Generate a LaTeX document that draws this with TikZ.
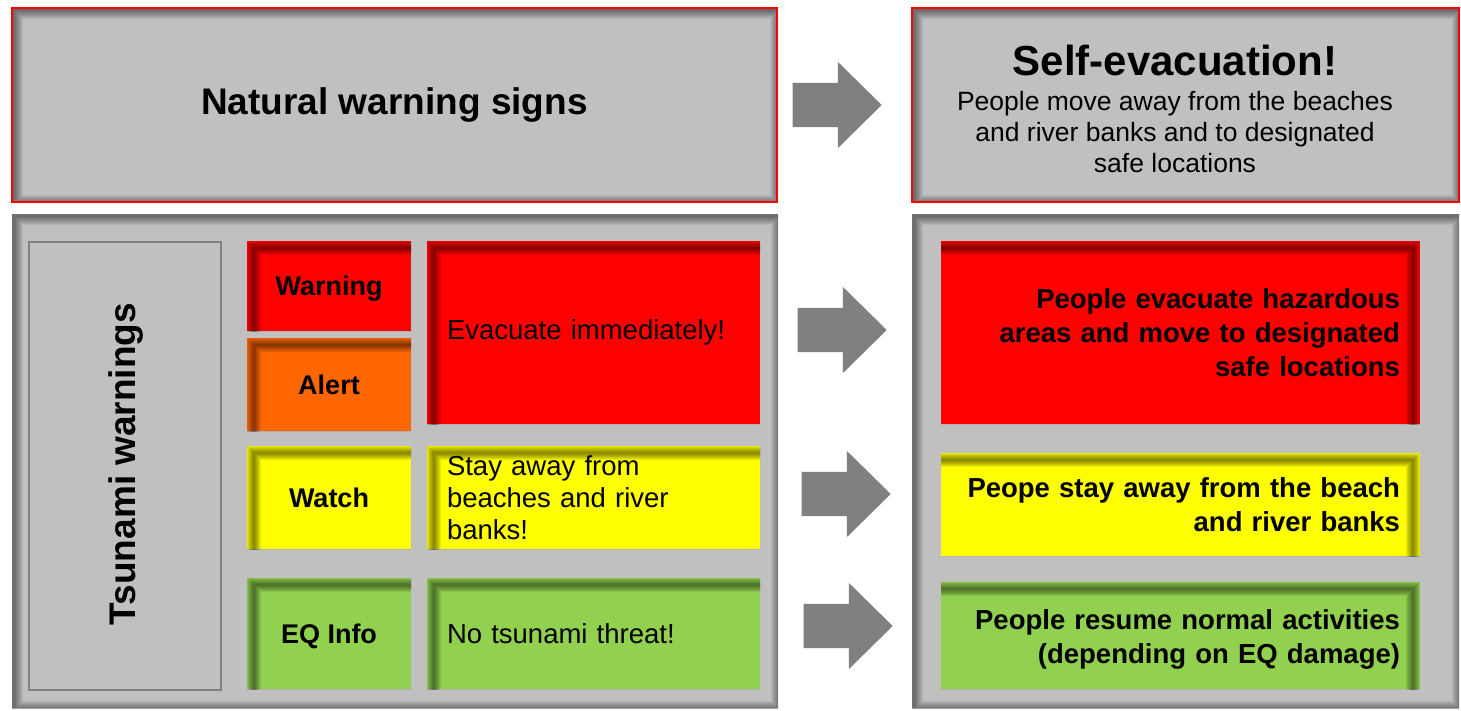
\documentclass[tikz,border=0pt]{standalone}
\usepackage{fontspec}
\setmainfont{Liberation Sans}
\usetikzlibrary{shapes.arrows}
\definecolor{panelgray}{HTML}{C0C0C0}
\definecolor{arrowgray}{HTML}{808080}
\definecolor{wred}{HTML}{FF0000}
\definecolor{worange}{HTML}{FF6600}
\definecolor{wyellow}{HTML}{FFFF00}
\definecolor{wgreen}{HTML}{92D050}
\tikzset{
  sbox/.style={rectangle, inner sep=0pt, outer sep=0pt, anchor=north west,
    path picture={
      \foreach \w in {2,4,...,18}
        \draw[black, opacity=0.06, line width=\w pt]
          ([shift={(1.5pt,-1.5pt)}]path picture bounding box.north west) rectangle
          ([shift={(1.5pt,-1.5pt)}]path picture bounding box.south east);
    }},
  cboxL/.style={rectangle, inner sep=0pt, outer sep=0pt, anchor=north west,
    path picture={
      \foreach \w in {2,4,...,14}
        \draw[black, opacity=0.08, line width=\w pt]
          ([shift={(7pt,-7pt)}]path picture bounding box.north west) rectangle
          ([shift={(7pt,-7pt)}]path picture bounding box.south east);
    }},
  cboxR/.style={rectangle, inner sep=0pt, outer sep=0pt, anchor=north west,
    path picture={
      \foreach \w in {2,4,...,14}
        \draw[black, opacity=0.08, line width=\w pt]
          ([shift={(-7pt,-7pt)}]path picture bounding box.north west) rectangle
          ([shift={(-7pt,-7pt)}]path picture bounding box.south east);
    }},
  redframe/.style={draw=wred, line width=2pt},
  lbl/.style={font=\fontsize{27}{32}\selectfont\bfseries, align=center},
  ltxt/.style={font=\fontsize{27.5}{32}\selectfont, align=left, inner xsep=20pt},
  rtxt/.style={font=\fontsize{27.5}{34}\selectfont\bfseries, align=right, inner xsep=20pt},
  blockarrow/.style={single arrow, fill=arrowgray, draw=none, inner sep=0pt,
    minimum width=86pt, minimum height=89pt, single arrow head extend=21pt,
    single arrow tip angle=89, anchor=tip},
}
\newcommand{\shaftstrut}{\rule[-22pt]{0pt}{44pt}}
\begin{document}
\begin{tikzpicture}[x=1pt,y=-1pt]
\useasboundingbox (0,0) rectangle (1461,710);

% top row
\node[sbox, redframe, fill=panelgray, minimum width=765pt, minimum height=194pt,
  font=\fontsize{37}{44}\selectfont\bfseries] (nat) at (12,8) {Natural warning signs};
\node[sbox, redframe, fill=panelgray, minimum width=547pt, minimum height=194pt] (self) at (912,8) {};
\node[font=\fontsize{42}{50}\selectfont\bfseries] (selft) at (1175,60) {Self-evacuation!};
\node[font=\fontsize{26.5}{31}\selectfont, align=center] (selfb) at (1175,132)
  {People move away from the beaches\\and river banks and to designated\\safe locations};

% bottom panels
\node[sbox, fill=panelgray, minimum width=766pt, minimum height=494pt] (lp) at (12,214) {};
\node[sbox, fill=panelgray, minimum width=547pt, minimum height=494pt] (rp) at (912,214) {};

% tsunami warnings column
\node[rectangle, anchor=north west, fill=panelgray, draw=arrowgray, line width=2pt,
  minimum width=192pt, minimum height=448pt] (tsu) at (28,241) {};
\node[rotate=90, font=\fontsize{37}{44}\selectfont\bfseries] (tsut) at ([xshift=1pt,yshift=2pt]tsu.center) {Tsunami warnings};

% level boxes
\node[cboxL, fill=wred, minimum width=164pt, minimum height=90pt, lbl, text depth=-6pt] (warn) at (247,241) {Warning};
\node[cboxL, fill=worange, minimum width=164pt, minimum height=93pt, lbl] (alert) at (247,338) {Alert};
\node[cboxL, fill=wyellow, minimum width=164pt, minimum height=103pt, lbl] (watch) at (247,446) {Watch};
\node[cboxL, fill=wgreen, minimum width=164pt, minimum height=111pt, lbl, text depth=-3pt] (eq) at (247,578) {EQ Info};

% meaning boxes
\node[cboxL, fill=wred, minimum width=333pt, minimum height=183pt, ltxt, text width=293pt] (evac) at (427,241) {Evacuate immediately!};
\node[cboxL, fill=wyellow, minimum width=333pt, minimum height=103pt, ltxt, text width=293pt] (stay) at (427,446) {Stay away from\\beaches and river\\banks!};
\node[cboxL, fill=wgreen, minimum width=333pt, minimum height=111pt, ltxt, text width=293pt] (nothreat) at (427,578) {No tsunami threat!};

% response boxes
\node[cboxR, fill=wred, minimum width=479pt, minimum height=183pt, rtxt, text width=439pt] (r1) at (941,241)
  {People evacuate hazardous\\areas and move to designated\\safe locations};
\node[cboxR, fill=wyellow, minimum width=479pt, minimum height=103pt, rtxt, text width=439pt] (r2) at (941,453)
  {Peope stay away from the beach\\and river banks};
\node[cboxR, fill=wgreen, minimum width=479pt, minimum height=107pt, rtxt, text width=439pt, text depth=32pt] (r3) at (941,582)
  {People resume normal activities\\(depending on EQ damage)};

% block arrows
\node[blockarrow] (a1) at (882,105) {\shaftstrut};
\node[blockarrow] (a2) at (887,330) {\shaftstrut};
\node[blockarrow] (a3) at (891,494) {\shaftstrut};
\node[blockarrow] (a4) at (893,626) {\shaftstrut};
\end{tikzpicture}
\end{document}
